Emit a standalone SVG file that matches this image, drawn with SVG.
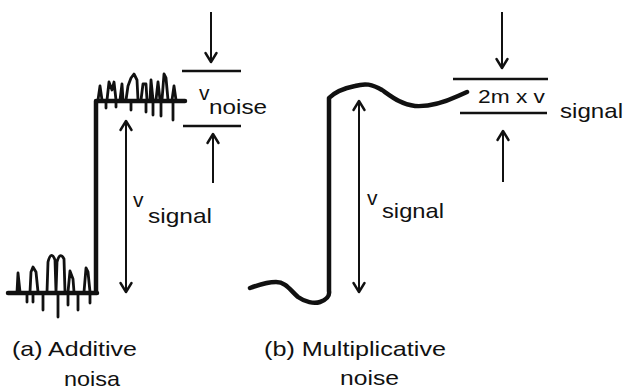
<svg xmlns="http://www.w3.org/2000/svg" width="625" height="389" viewBox="0 0 625 389">
<style>
text{font-family:"Liberation Sans",Arial,sans-serif;fill:#111}
.lbl{font-size:21px}
.bar{stroke:#111;stroke-width:2.6;fill:none}
.arr{stroke:#111;stroke-width:2;fill:none;marker-end:url(#ah)}
.arr2{stroke:#111;stroke-width:2;fill:none;marker-start:url(#ah);marker-end:url(#ah)}
.sig{stroke:#111;stroke-width:4.5;fill:none;stroke-linecap:round;stroke-linejoin:round}
.nz{stroke:#111;stroke-width:2.8;fill:none;stroke-linecap:round;stroke-linejoin:round}
</style>
<defs>
<marker id="ah" viewBox="-11 -7 13 14" refX="0" refY="0" markerWidth="13" markerHeight="14" markerUnits="userSpaceOnUse" orient="auto-start-reverse">
<path d="M-9,-5.5 L0,0 L-9,5.5" fill="none" stroke="#111" stroke-width="2.4" stroke-linecap="round" stroke-linejoin="round"/>
</marker>
</defs>
<rect width="625" height="389" fill="#fff"/>

<g id="additive-signal">
<path class="sig" d="M8,293 H97 M96,293 V101 H185"/>
<path class="nz" d="M98,100 L100,86 L102,100 M107,100 L109,82 L112,90 L114,82 L116,100 M120,100 L122,84 L123,100 M126,100 L128,86 L131,78 L134,74 L137,80 L138,100 M141,100 L143,84 L146,84 L147,100 M150,100 L151,80 L153,100 M156,100 L158,82 L160,100 M162,100 L164,74 L166,78 L168,100 M172,100 L174,86 L176,100"/>
<path class="nz" d="M106,102 V108 M116,102 V107 M131,102 V110 M146,102 V112 M153,102 V115 M161,102 V116 M173,102 V120"/>
<path class="nz" d="M17,292 L18,273 L20,292 M30,292 L31,272 L33,267 L36,272 L38,292 M47,292 L48,262 Q51,250 55,260 L56,292 M56,292 L57,262 Q60,251 64,259 L65,292 M68,292 L70,271 L73,279 L74,292 M84,292 L86,268 L88,272 L90,292"/>
<path class="nz" d="M27,295 V302 M33,295 V302 M43,295 V310 M58,295 V317 M68,295 V305 M78,295 V310 M90,295 V303"/>
</g>

<g id="additive-vnoise">
<line class="bar" x1="182" y1="71" x2="241" y2="71"/>
<line class="bar" x1="183" y1="126" x2="241" y2="126"/>
<text class="lbl" x="199" y="100">v</text>
<text class="lbl" x="209" y="114" textLength="58" lengthAdjust="spacingAndGlyphs">noise</text>
</g>

<g id="additive-vsignal">
<text class="lbl" x="133" y="207">v</text>
<text class="lbl" x="148" y="223" textLength="64" lengthAdjust="spacingAndGlyphs">signal</text>
</g>

<g id="additive-caption">
<text class="lbl" x="12" y="356" textLength="125" lengthAdjust="spacingAndGlyphs">(a) Additive</text>
<text class="lbl" x="64" y="386" textLength="56" lengthAdjust="spacingAndGlyphs">noisa</text>
</g>

<g id="mult-signal">
<path class="sig" d="M250,288 C258,285 266,282 276,282 C286,282 290,290 298,297 C305,302 314,304 320,302 C326,300 330,296 329,291 V98 C335,92 345,88 355,86 C365,83 372,84 382,90 C392,97 402,105 415,106 C430,107 445,102 458,96 L467,92"/>
</g>

<g id="mult-delta">
<line class="bar" x1="453" y1="79" x2="548" y2="79"/>
<line class="bar" x1="460" y1="113" x2="547" y2="113"/>
<text x="478" y="103" font-size="19" textLength="67" lengthAdjust="spacingAndGlyphs">2m x v</text>
<text class="lbl" x="560" y="118" textLength="63" lengthAdjust="spacingAndGlyphs">signal</text>
</g>

<g id="mult-vsignal">
<text class="lbl" x="367" y="205">v</text>
<text class="lbl" x="382" y="218" textLength="62" lengthAdjust="spacingAndGlyphs">signal</text>
</g>

<g id="mult-caption">
<text class="lbl" x="264" y="356" textLength="182" lengthAdjust="spacingAndGlyphs">(b) Multiplicative</text>
<text class="lbl" x="340" y="385" textLength="59" lengthAdjust="spacingAndGlyphs">noise</text>
</g>

<g id="connectors">
<line class="arr" x1="211" y1="12" x2="211" y2="62"/>
<line class="arr" x1="213" y1="183" x2="213" y2="134"/>
<line class="arr2" x1="126" y1="121" x2="126" y2="292"/>
<line class="arr" x1="502" y1="12" x2="502" y2="68"/>
<line class="arr" x1="503" y1="182" x2="503" y2="131"/>
<line class="arr2" x1="359" y1="101" x2="359" y2="292"/>
</g>
</svg>
